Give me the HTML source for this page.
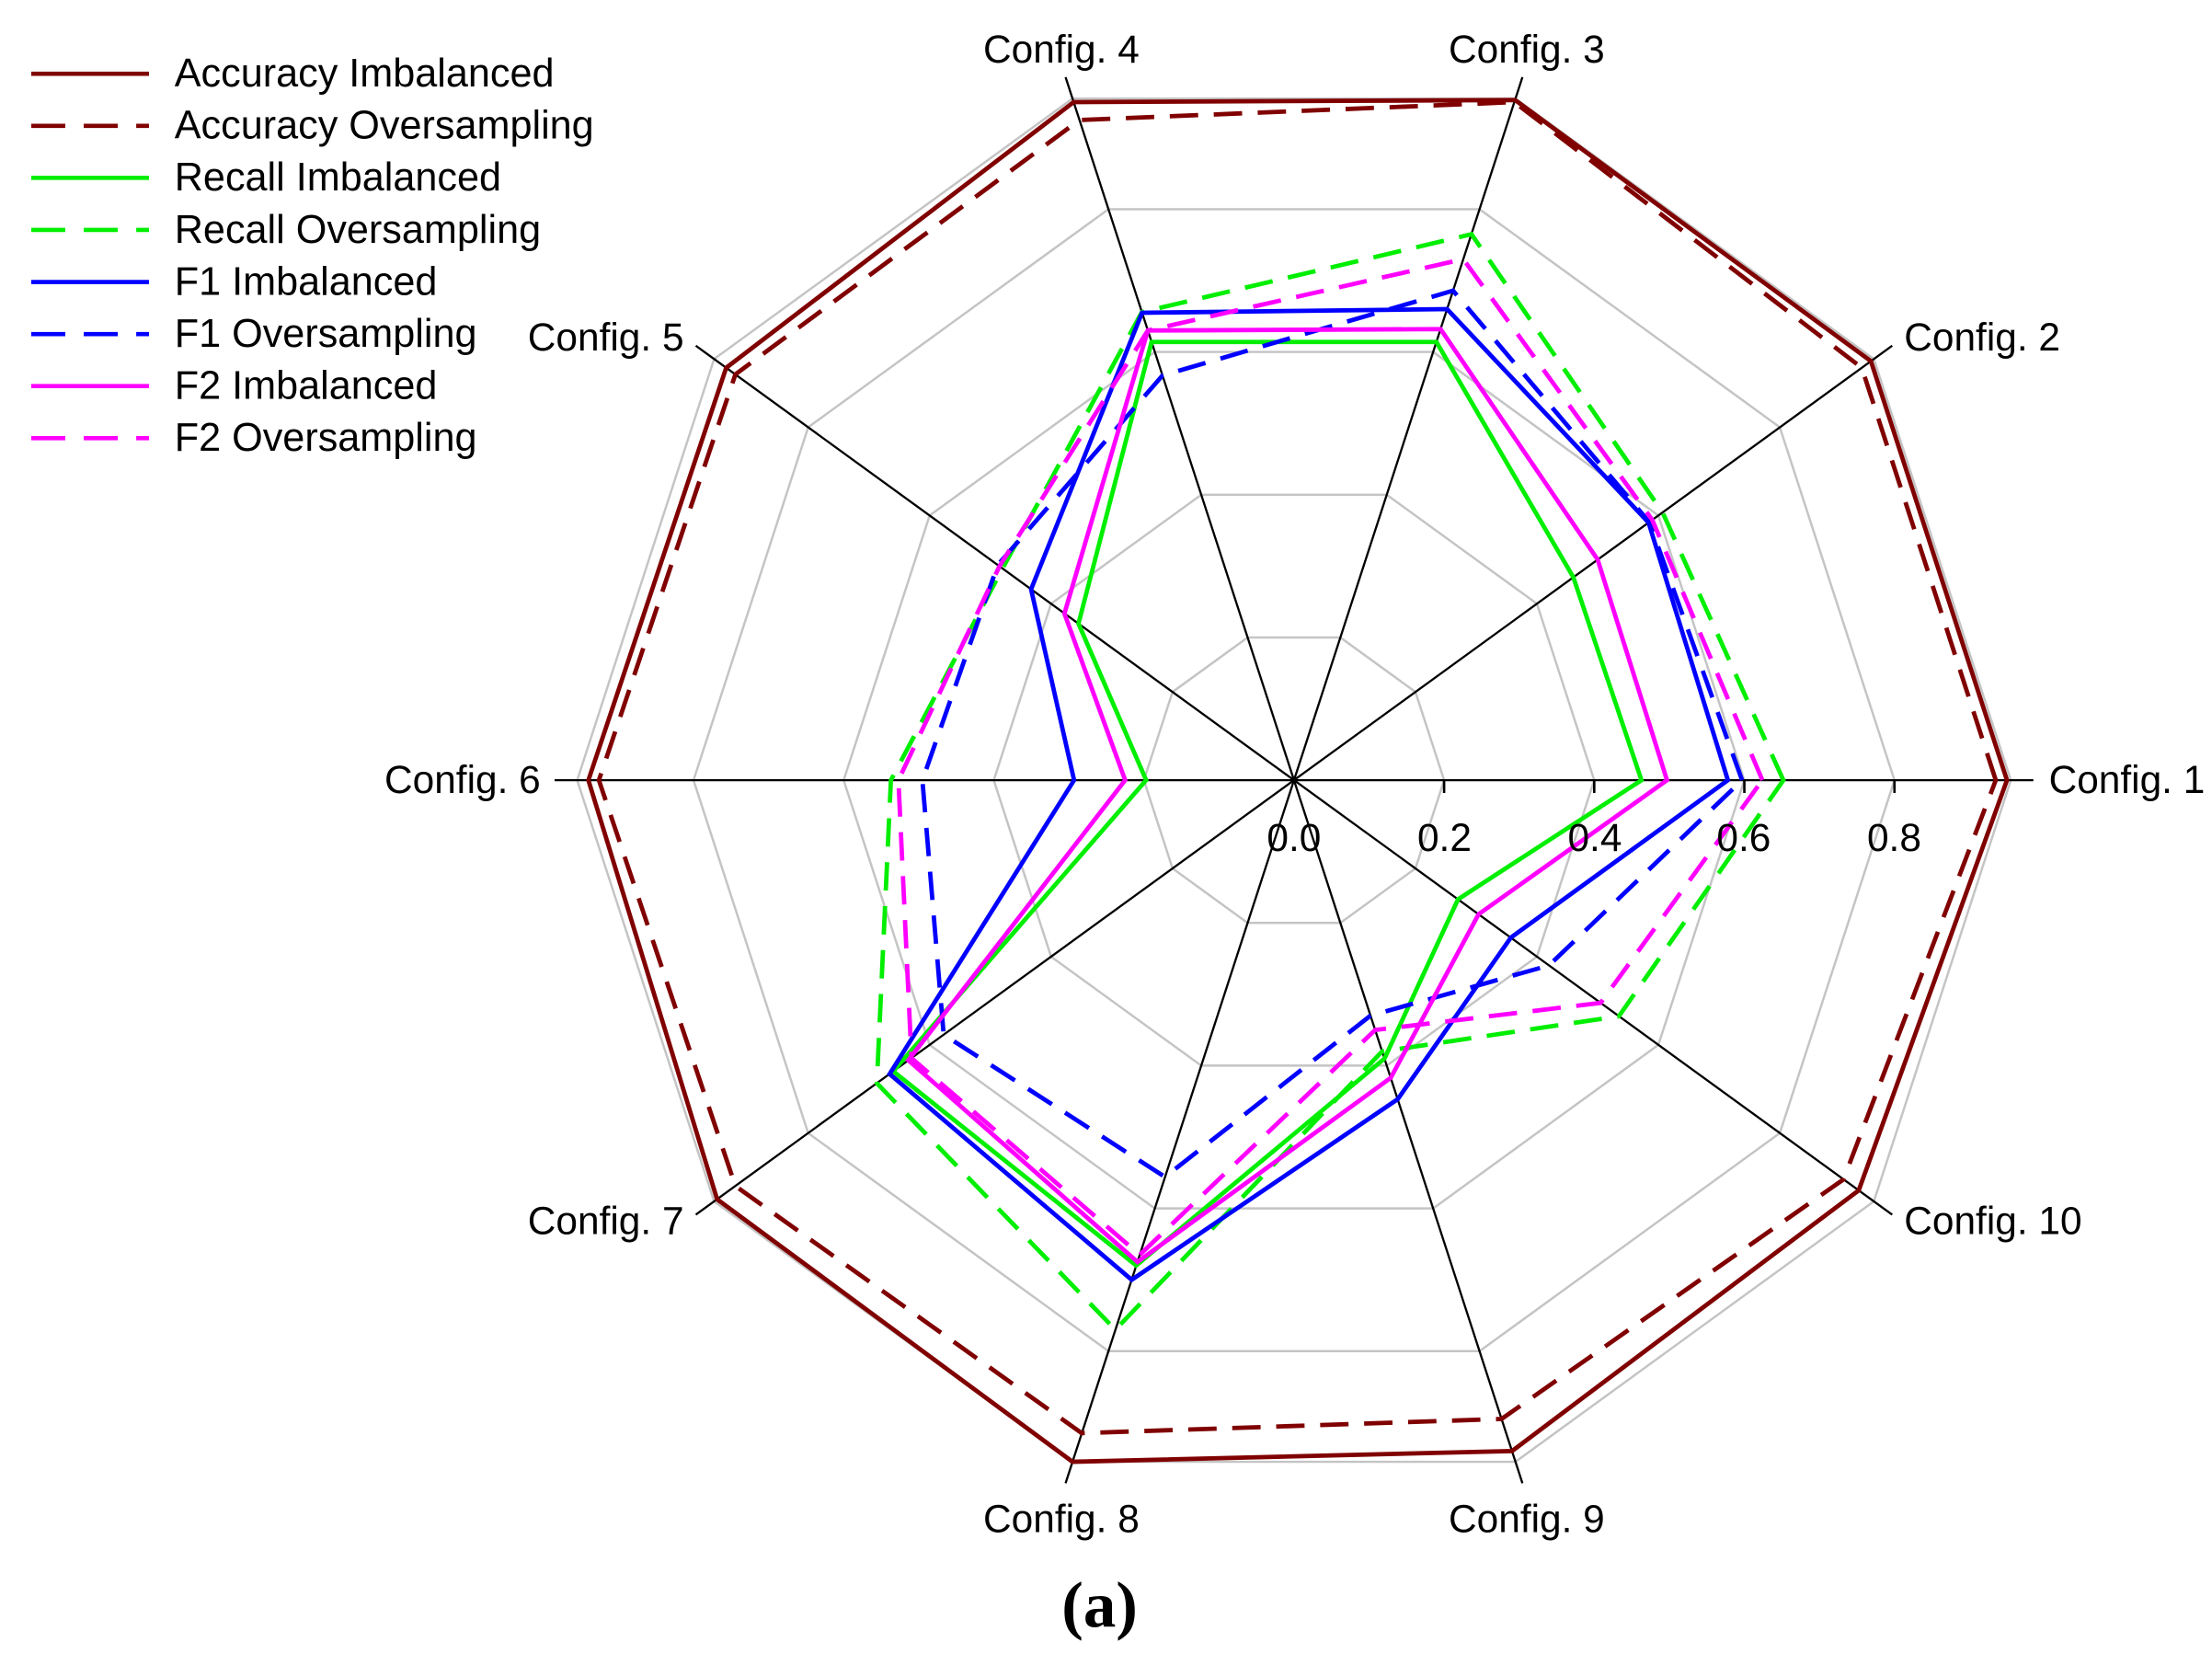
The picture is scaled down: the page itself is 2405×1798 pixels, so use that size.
<!DOCTYPE html>
<html><head><meta charset="utf-8"><style>html,body{margin:0;padding:0;background:#fff}svg{display:block}</style></head>
<body>
<svg id="s" width="2405" height="1798" viewBox="0 0 1559 1166" preserveAspectRatio="none" xmlns="http://www.w3.org/2000/svg" font-family="Liberation Sans, sans-serif">
<rect width="1559" height="1166" fill="#fff"/>
<g id="grid"></g>
<g id="data"></g>
<g font-size="27.5" fill="#000">
<text x="748" y="44" text-anchor="middle">Config. 4</text>
<text x="1076" y="44" text-anchor="middle">Config. 3</text>
<text x="1342" y="247">Config. 2</text>
<text x="1444" y="559">Config. 1</text>
<text x="1342" y="870">Config. 10</text>
<text x="1076" y="1080" text-anchor="middle">Config. 9</text>
<text x="748" y="1080" text-anchor="middle">Config. 8</text>
<text x="482" y="870" text-anchor="end">Config. 7</text>
<text x="381" y="559" text-anchor="end">Config. 6</text>
<text x="482" y="247" text-anchor="end">Config. 5</text>
<text x="912" y="600" text-anchor="middle">0.0</text>
<text x="1018" y="600" text-anchor="middle">0.2</text>
<text x="1124" y="600" text-anchor="middle">0.4</text>
<text x="1229" y="600" text-anchor="middle">0.6</text>
<text x="1335" y="600" text-anchor="middle">0.8</text>
</g>
<g id="legend" font-size="28"></g>
<text x="775" y="1147" text-anchor="middle" font-family="Liberation Serif, serif" font-weight="bold" font-size="46">(a)</text>
</svg>
<script>
var NS="http://www.w3.org/2000/svg",cx=912,cy=550,U=529;
function pt(k,v){var t=k*36*Math.PI/180;return [(cx+U*v*Math.cos(t)).toFixed(1),(cy-U*v*Math.sin(t)).toFixed(1)];}
function el(p,tag,a){var e=document.createElementNS(NS,tag);for(var k in a)e.setAttribute(k,a[k]);p.appendChild(e);return e;}
var g=document.getElementById('grid');
[0.2,0.4,0.6,0.8,0.955].forEach(function(r){var ps=[];for(var k=0;k<10;k++)ps.push(pt(k,r).join(','));el(g,'polygon',{points:ps.join(' '),fill:'none',stroke:'#c4c4c4','stroke-width':1.6});});
for(var k=0;k<10;k++){var p=pt(k,0.985);el(g,'line',{x1:cx,y1:cy,x2:p[0],y2:p[1],stroke:'#000','stroke-width':1.5});}
[0.2,0.4,0.6,0.8].forEach(function(r){var x=cx+U*r;el(g,'line',{x1:x,y1:cy,x2:x,y2:cy+9,stroke:'#000','stroke-width':1.7});});
var S=[
["Accuracy Imbalanced","#800000",0,[0.95,0.95,0.953,0.95,0.935,0.94,0.95,0.955,0.94,0.93]],
["Accuracy Oversampling","#800000",1,[0.935,0.935,0.95,0.925,0.92,0.926,0.92,0.915,0.895,0.905]],
["Recall Imbalanced","#00ee00",0,[0.463,0.46,0.614,0.614,0.355,0.197,0.66,0.68,0.39,0.27]],
["Recall Oversampling","#00ee00",1,[0.652,0.607,0.765,0.656,0.48,0.537,0.687,0.77,0.38,0.535]],
["F1 Imbalanced","#0000ff",0,[0.578,0.584,0.66,0.655,0.433,0.293,0.666,0.70,0.447,0.357]],
["F1 Oversampling","#0000ff",1,[0.597,0.585,0.686,0.567,0.488,0.495,0.577,0.556,0.33,0.42]],
["F2 Imbalanced","#ff00ff",0,[0.497,0.50,0.632,0.63,0.378,0.225,0.635,0.675,0.417,0.304]],
["F2 Oversampling","#ff00ff",1,[0.624,0.59,0.73,0.63,0.485,0.527,0.63,0.665,0.35,0.505]]];
var d=document.getElementById('data'),L=document.getElementById('legend');
S.forEach(function(s,i){var ps=s[3].map(function(v,k){return pt(k,v).join(',');});
var a={points:ps.join(' '),fill:'none',stroke:s[1],'stroke-width':3.1,'stroke-linejoin':'miter'};if(s[2])a['stroke-dasharray']='20 11';el(d,'polygon',a);
var y=52+i*36.7;var b={x1:22,y1:y,x2:105,y2:y,stroke:s[1],'stroke-width':3};if(s[2])b['stroke-dasharray']='24 13';el(L,'line',b);
var t=el(L,'text',{x:123,y:y+9});t.textContent=s[0];});
</script>
</body></html>
